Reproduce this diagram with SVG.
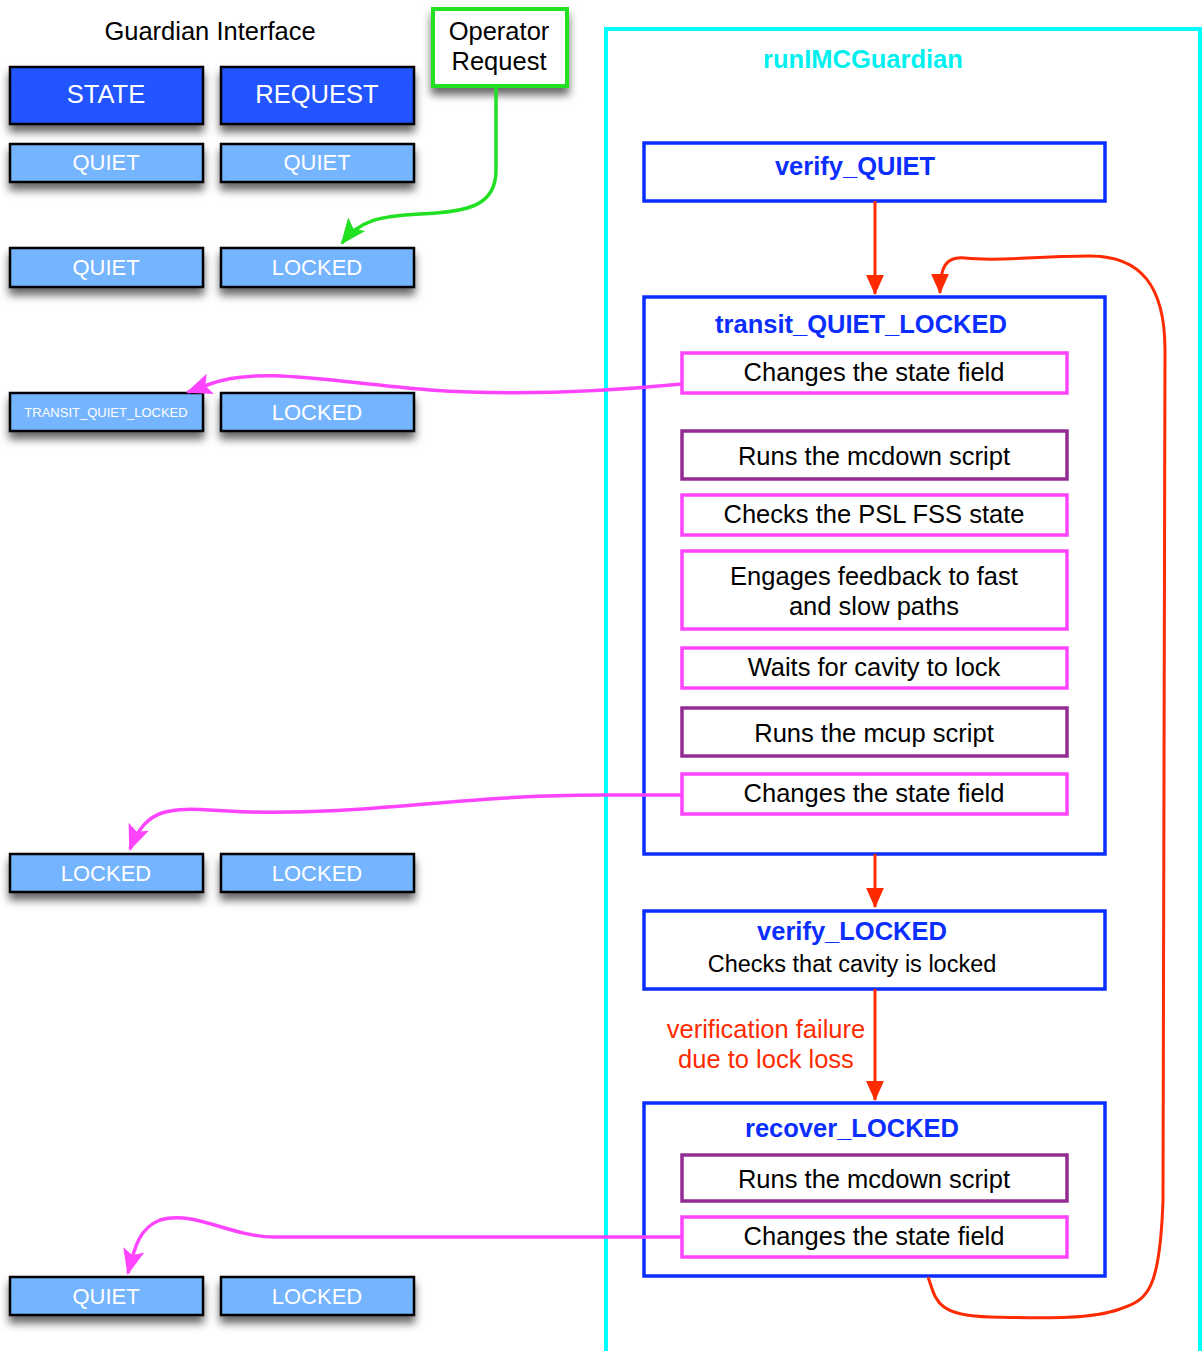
<svg xmlns="http://www.w3.org/2000/svg" width="1204" height="1351" viewBox="0 0 1204 1351">
<style>
text{font-family:"Liberation Sans",Arial,sans-serif}
.hdr{fill:#2255FF;stroke:#000;stroke-width:2.5}
.val{fill:#74B4FF;stroke:#000;stroke-width:2.5}
.wt{fill:#fff;font-size:25.5px;text-anchor:middle}
.wv{fill:#fff;font-size:22px;text-anchor:middle}
.blk{fill:#000;font-size:25.5px;text-anchor:middle}
.ttl{fill:#0A2EFF;font-size:25.5px;font-weight:bold;text-anchor:middle}
.st{fill:#fff;stroke:#0A2EFF;stroke-width:3.5}
.mg{fill:#fff;stroke:#FF44FF;stroke-width:3.5}
.pu{fill:#fff;stroke:#922C92;stroke-width:3.5}
.red{fill:none;stroke:#FF2A00;stroke-width:3}
.pink{fill:none;stroke:#FF44FF;stroke-width:3.5}
</style>
<defs>
<filter id="sh" x="-20%" y="-30%" width="140%" height="180%">
<feDropShadow dx="0" dy="7" stdDeviation="4" flood-color="#000" flood-opacity="0.6"/>
</filter>
<marker id="ar" markerWidth="20" markerHeight="20" refX="17" refY="8" orient="auto" markerUnits="userSpaceOnUse" viewBox="0 0 18 16"><path d="M0,0 L18,8 L0,16 Z" fill="#FF2A00"/></marker>
<marker id="ap" markerWidth="26" markerHeight="24" refX="22" refY="10" orient="auto" markerUnits="userSpaceOnUse" viewBox="0 0 24 20"><path d="M0,0 L24,10 L0,20 L5,10 Z" fill="#FF44FF"/></marker>
<marker id="ag" markerWidth="26" markerHeight="24" refX="22" refY="10" orient="auto" markerUnits="userSpaceOnUse" viewBox="0 0 24 20"><path d="M0,0 L24,10 L0,20 L5,10 Z" fill="#22E022"/></marker>
</defs>
<rect width="1204" height="1351" fill="#fff"/>

<g id="frame">
<rect x="606" y="29" width="594" height="1340" fill="none" stroke="#00FFFF" stroke-width="4"/>
<text x="863" y="68" font-size="25.5" font-weight="bold" fill="#00F0F0" text-anchor="middle">runIMCGuardian</text>
</g>

<g id="guardian-title"><text x="210" y="40" font-size="25.5" fill="#000" text-anchor="middle">Guardian Interface</text></g>

<g id="hdr-state"><rect class="hdr" x="10" y="67" width="193" height="57" filter="url(#sh)"/><text class="wt" x="106" y="103">STATE</text></g>
<g id="hdr-request"><rect class="hdr" x="221" y="67" width="193" height="57" filter="url(#sh)"/><text class="wt" x="317" y="103">REQUEST</text></g>

<g id="r1-state"><rect class="val" x="10" y="144" width="193" height="38" filter="url(#sh)"/><text class="wv" x="106" y="170">QUIET</text></g>
<g id="r1-req"><rect class="val" x="221" y="144" width="193" height="38" filter="url(#sh)"/><text class="wv" x="317" y="170">QUIET</text></g>

<g id="r2-state"><rect class="val" x="10" y="248" width="193" height="39" filter="url(#sh)"/><text class="wv" x="106" y="275">QUIET</text></g>
<g id="r2-req"><rect class="val" x="221" y="248" width="193" height="39" filter="url(#sh)"/><text class="wv" x="317" y="275">LOCKED</text></g>

<g id="r3-state"><rect class="val" x="10" y="393" width="193" height="38" filter="url(#sh)"/><text x="106" y="417" font-size="13" fill="#fff" text-anchor="middle">TRANSIT_QUIET_LOCKED</text></g>
<g id="r3-req"><rect class="val" x="221" y="393" width="193" height="38" filter="url(#sh)"/><text class="wv" x="317" y="420">LOCKED</text></g>

<g id="r4-state"><rect class="val" x="10" y="854" width="193" height="38" filter="url(#sh)"/><text class="wv" x="106" y="881">LOCKED</text></g>
<g id="r4-req"><rect class="val" x="221" y="854" width="193" height="38" filter="url(#sh)"/><text class="wv" x="317" y="881">LOCKED</text></g>

<g id="r5-state"><rect class="val" x="10" y="1277" width="193" height="38" filter="url(#sh)"/><text class="wv" x="106" y="1304">QUIET</text></g>
<g id="r5-req"><rect class="val" x="221" y="1277" width="193" height="38" filter="url(#sh)"/><text class="wv" x="317" y="1304">LOCKED</text></g>

<g id="operator"><rect x="433" y="9" width="134" height="77" fill="#fff" stroke="#22E022" stroke-width="4" filter="url(#sh)"/><text class="blk" x="499" y="40">Operator</text><text class="blk" x="499" y="70">Request</text></g>

<g id="verify-quiet"><rect class="st" x="644" y="143" width="461" height="58"/><text class="ttl" x="855" y="175">verify_QUIET</text></g>

<g id="transit"><rect class="st" x="644" y="297" width="461" height="557"/><text class="ttl" x="861" y="333">transit_QUIET_LOCKED</text></g>
<g id="t1"><rect class="mg" x="682" y="353" width="385" height="40"/><text class="blk" x="874" y="381">Changes the state field</text></g>
<g id="t2"><rect class="pu" x="682" y="431" width="385" height="48"/><text class="blk" x="874" y="465">Runs the mcdown script</text></g>
<g id="t3"><rect class="mg" x="682" y="495" width="385" height="40"/><text class="blk" x="874" y="523">Checks the PSL FSS state</text></g>
<g id="t4"><rect class="mg" x="682" y="551" width="385" height="78"/><text class="blk" x="874" y="585">Engages feedback to fast</text><text class="blk" x="874" y="615">and slow paths</text></g>
<g id="t5"><rect class="mg" x="682" y="648" width="385" height="40"/><text class="blk" x="874" y="676">Waits for cavity to lock</text></g>
<g id="t6"><rect class="pu" x="682" y="708" width="385" height="48"/><text class="blk" x="874" y="742">Runs the mcup script</text></g>
<g id="t7"><rect class="mg" x="682" y="774" width="385" height="40"/><text class="blk" x="874" y="802">Changes the state field</text></g>

<g id="verify-locked"><rect class="st" x="644" y="911" width="461" height="78"/><text class="ttl" x="852" y="940">verify_LOCKED</text><text x="852" y="972" font-size="23.5" fill="#000" text-anchor="middle">Checks that cavity is locked</text></g>

<g id="recover"><rect class="st" x="644" y="1103" width="461" height="173"/><text class="ttl" x="852" y="1137">recover_LOCKED</text></g>
<g id="rc1"><rect class="pu" x="682" y="1155" width="385" height="46"/><text class="blk" x="874" y="1188">Runs the mcdown script</text></g>
<g id="rc2"><rect class="mg" x="682" y="1217" width="385" height="40"/><text class="blk" x="874" y="1245">Changes the state field</text></g>

<g id="connectors">
<path class="red" d="M875 201 L875 294" marker-end="url(#ar)"/>
<path class="red" d="M875 854 L875 907" marker-end="url(#ar)"/>
<path class="red" d="M875 989 L875 1100" marker-end="url(#ar)"/>
<path class="red" d="M928 1277 C936 1298 934 1316 990 1317 C1040 1318 1090 1320 1120 1309 C1148 1300 1160 1290 1163 1200 L1165 350 C1165 285 1140 256 1090 256 C1030 256 1000 262 965 258 C945 256 940 268 940 293" marker-end="url(#ar)"/>
<text x="766" y="1038" font-size="25.5" fill="#FF2A00" text-anchor="middle">verification failure</text>
<text x="766" y="1068" font-size="25.5" fill="#FF2A00" text-anchor="middle">due to lock loss</text>
<path class="pink" d="M682 384 C600 392 520 396 430 390 C330 382 260 366 210 384 L188 392" marker-end="url(#ap)"/>
<path class="pink" d="M682 795 L600 795 C460 795 370 815 250 812 C180 810 150 798 130 849" marker-end="url(#ap)"/>
<path class="pink" d="M682 1237 L275 1237 C230 1237 195 1210 160 1220 C140 1228 135 1245 128 1273" marker-end="url(#ap)"/>
<path d="M496 86 L496 170 C496 205 470 212 420 214 C380 216 360 220 342 243" fill="none" stroke="#22E022" stroke-width="3.5" marker-end="url(#ag)"/>
</g>
</svg>
